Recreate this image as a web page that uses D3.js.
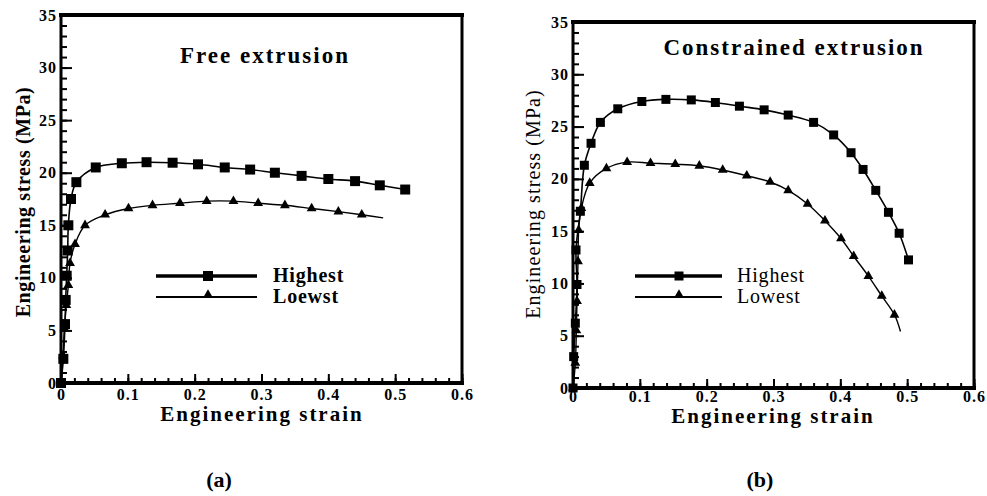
<!DOCTYPE html>
<html>
<head>
<meta charset="utf-8">
<title>Engineering stress-strain curves</title>
<script src="https://d3js.org/d3.v7.min.js"></script>
<style>
  body { margin: 0; background: #fff; }
  svg { display: block; }
</style>
</head>
<body>
<svg width="987" height="496"></svg>
<script>
// values: [strain, stress MPa]
var freeHighest = [[0, 0], [0.0035, 2.3], [0.006, 5.6], [0.007, 7.9], [0.0085, 10.2], [0.01, 12.6],
  [0.011, 15.0], [0.015, 17.5], [0.023, 19.1], [0.052, 20.5], [0.091, 20.9], [0.128, 21.0],
  [0.167, 20.95], [0.205, 20.8], [0.245, 20.5], [0.283, 20.3], [0.32, 20.0], [0.36, 19.7],
  [0.40, 19.4], [0.44, 19.2], [0.477, 18.8], [0.515, 18.4]];
var freeLowest = [[0, 0], [0.003, 2.6], [0.005, 5.2], [0.008, 7.4], [0.011, 9.3], [0.0135, 11.4],
  [0.021, 13.2], [0.036, 15.0], [0.066, 16.0], [0.101, 16.6], [0.137, 16.9], [0.178, 17.1],
  [0.218, 17.3], [0.258, 17.3], [0.295, 17.1], [0.335, 16.9], [0.375, 16.6], [0.415, 16.3],
  [0.45, 16.0]];
var freeLowestEnd = [0.482, 15.7];

var consHighest = [[0, 0], [0.001, 3.0], [0.0035, 6.2], [0.006, 9.9], [0.0045, 13.2], [0.011, 16.9],
  [0.017, 21.3], [0.027, 23.4], [0.041, 25.4], [0.067, 26.7], [0.103, 27.4], [0.139, 27.6],
  [0.177, 27.55], [0.213, 27.3], [0.249, 26.95], [0.286, 26.6], [0.322, 26.1], [0.36, 25.4],
  [0.39, 24.2], [0.416, 22.5], [0.434, 20.9], [0.453, 18.9], [0.472, 16.8], [0.488, 14.8],
  [0.502, 12.25]];
var consLowest = [[0, 0], [0.0035, 2.4], [0.005, 5.5], [0.006, 8.3], [0.0075, 12.1], [0.0085, 15.1],
  [0.0125, 17.2], [0.025, 19.6], [0.05, 21.0], [0.081, 21.6], [0.116, 21.5], [0.153, 21.4],
  [0.189, 21.25], [0.224, 20.85], [0.26, 20.3], [0.295, 19.7], [0.322, 18.9], [0.351, 17.6],
  [0.377, 16.0], [0.401, 14.3], [0.42, 12.6], [0.442, 10.7], [0.462, 8.8], [0.481, 7.0]];
var consLowestEnd = [0.49, 5.4];

var xTicks = [0, 0.1, 0.2, 0.3, 0.4, 0.5, 0.6];
var yTicks = [0, 5, 10, 15, 20, 25, 30, 35];
var titles = ["Free extrusion", "Constrained extrusion"];
var legendNames = [["Highest", "Loewst"], ["Highest", "Lowest"]];
var panelTags = ["(a)", "(b)"];

var serif = "'Liberation Serif', 'Times New Roman', Times, serif";
var svg = d3.select("svg").attr("font-family", serif);

var panels = [
  { left: 61, right: 462, top: 15, bottom: 383, high: freeHighest, low: freeLowest, lowEnd: freeLowestEnd,
    title: titles[0], titleX: 265, titleY: 63, names: legendNames[0], bold: true,
    legX: [156, 257, 208], legTextX: 273, tagX: 219, sq: 10, pad: 6, labY: 421 },
  { left: 573, right: 974, top: 22, bottom: 388, high: consHighest, low: consLowest, lowEnd: consLowestEnd,
    title: titles[1], titleX: 794, titleY: 55, names: legendNames[1], bold: false,
    legX: [635, 722, 679], legTextX: 737, tagX: 760, sq: 9, pad: 3, labY: 423 }
];

function styleAxis(a) {
  a.attr("font-family", serif);
  a.select(".domain").remove();
  a.selectAll("line").attr("stroke-width", 2);
  a.selectAll("text").attr("font-family", serif).attr("font-size", 16)
    .attr("font-weight", "bold").attr("letter-spacing", 1);
}

panels.forEach(function(p, i) {
  var x = d3.scaleLinear().domain([0, 0.6]).range([p.left, p.right]);
  var y = d3.scaleLinear().domain([0, 35]).range([p.bottom, p.top]);
  var g = svg.append("g");

  // minor ticks
  var xMinor = d3.range(0, 0.6001, 0.02);
  var yMinor = d3.range(0, 35.001, 1);
  g.append("g").attr("transform", "translate(0," + p.bottom + ")")
    .call(d3.axisBottom(x).tickValues(xMinor).tickSize(-5).tickFormat(""))
    .call(styleAxis);
  g.append("g").attr("transform", "translate(" + p.left + ",0)")
    .call(d3.axisLeft(y).tickValues(yMinor).tickSize(-6).tickFormat(""))
    .call(styleAxis);

  // major ticks + labels
  g.append("g").attr("transform", "translate(0," + p.bottom + ")")
    .call(d3.axisBottom(x).tickValues(xTicks).tickSize(-9).tickPadding(p.pad)
      .tickFormat(function(d) { return d === 0 ? "0" : d3.format(".1f")(d); }))
    .call(styleAxis);
  g.append("g").attr("transform", "translate(" + p.left + ",0)")
    .call(d3.axisLeft(y).tickValues(yTicks).tickSize(-11).tickPadding(4))
    .call(styleAxis);

  // frame
  g.append("line").attr("x1", p.left - 2).attr("x2", p.right + 2).attr("y1", p.top).attr("y2", p.top)
    .attr("stroke", "#000").attr("stroke-width", 4);
  g.append("line").attr("x1", p.left - 2).attr("x2", p.right + 2).attr("y1", p.bottom).attr("y2", p.bottom)
    .attr("stroke", "#000").attr("stroke-width", 4);
  g.append("line").attr("x1", p.left).attr("x2", p.left).attr("y1", p.top).attr("y2", p.bottom)
    .attr("stroke", "#000").attr("stroke-width", 3);
  g.append("line").attr("x1", p.right).attr("x2", p.right).attr("y1", p.top).attr("y2", p.bottom)
    .attr("stroke", "#000").attr("stroke-width", 3);

  // curves
  var line = d3.line().x(function(d) { return x(d[0]); }).y(function(d) { return y(d[1]); })
    .curve(d3.curveCatmullRom.alpha(0.5));
  g.append("path").datum(p.high).attr("d", line).attr("fill", "none")
    .attr("stroke", "#000").attr("stroke-width", 1.6);
  g.append("path").datum(p.low.concat([p.lowEnd])).attr("d", line).attr("fill", "none")
    .attr("stroke", "#000").attr("stroke-width", 1.4);

  var sq = d3.symbol().type(d3.symbolSquare).size(p.sq * p.sq);
  var tri = d3.symbol().type(d3.symbolTriangle).size(42);
  g.selectAll(".sq").data(p.high).enter().append("path").attr("class", "sq")
    .attr("d", sq).attr("transform", function(d) { return "translate(" + x(d[0]) + "," + y(d[1]) + ")"; });
  g.selectAll(".tri").data(p.low).enter().append("path").attr("class", "tri")
    .attr("d", tri).attr("transform", function(d) { return "translate(" + x(d[0]) + "," + y(d[1]) + ")"; });

  // title
  g.append("text").attr("x", p.titleX).attr("y", p.titleY).attr("text-anchor", "middle")
    .attr("font-size", 23).attr("font-weight", "bold").attr("letter-spacing", 2).text(p.title);

  // legend
  var ly = [276, 297];
  g.append("line").attr("x1", p.legX[0]).attr("x2", p.legX[1]).attr("y1", ly[0]).attr("y2", ly[0])
    .attr("stroke", "#000").attr("stroke-width", 3.5);
  g.append("line").attr("x1", p.legX[0]).attr("x2", p.legX[1]).attr("y1", ly[1]).attr("y2", ly[1])
    .attr("stroke", "#000").attr("stroke-width", 2);
  g.append("path").attr("d", sq).attr("transform", "translate(" + p.legX[2] + "," + ly[0] + ")");
  g.append("path").attr("d", tri).attr("transform", "translate(" + p.legX[2] + "," + (ly[1] - 2) + ")");
  p.names.forEach(function(n, k) {
    g.append("text").attr("x", p.legTextX).attr("y", ly[k] + 6).attr("font-size", 20)
      .attr("font-weight", p.bold ? "bold" : "normal").attr("letter-spacing", 0.8).text(n);
  });

  // axis titles
  var midX = i === 0 ? 262 : 773;
  g.append("text").attr("x", midX).attr("y", p.labY).attr("text-anchor", "middle")
    .attr("font-size", 21).attr("font-weight", "bold").attr("letter-spacing", 2).text("Engineering strain");
  var ax = i === 0 ? 30 : 540;
  g.append("text").attr("transform", "translate(" + ax + "," + (i === 0 ? 202 : 204) + ") rotate(-90)")
    .attr("text-anchor", "middle").attr("font-size", 20)
    .attr("letter-spacing", p.bold ? 0.6 : 1.1)
    .attr("font-weight", p.bold ? "bold" : "normal").text("Engineering stress (MPa)");

  g.append("text").attr("x", p.tagX).attr("y", 487).attr("text-anchor", "middle")
    .attr("font-size", 22).attr("font-weight", "bold").text(panelTags[i]);
});
</script>
</body>
</html>
